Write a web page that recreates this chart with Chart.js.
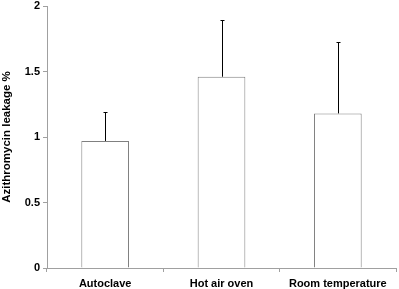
<!DOCTYPE html>
<html lang="en">
<head>
    <meta charset="UTF-8">
    <title>Azithromycin leakage</title>
    <script src="https://cdn.jsdelivr.net/npm/chart.js"></script>
    <style>
        html, body { margin: 0; padding: 0; background: #fff; }
        #wrap { width: 399px; height: 289px; }
    </style>
</head>
<body>
    <div id="wrap"><canvas id="leakChart"></canvas></div>

    <script>
        const categories = ['Autoclave', 'Hot air oven', 'Room temperature'];
        const leakage = [0.97, 1.46, 1.18];
        const errorUp = [0.22, 0.43, 0.545];
        const yTicks = [0, 0.5, 1, 1.5, 2];

        // barres d'erreur (seulement vers le haut)
        const errorBars = {
            id: 'errorBars',
            afterDatasetsDraw(chart) {
                const ctx = chart.ctx;
                const y = chart.scales.y;
                const meta = chart.getDatasetMeta(0);
                ctx.save();
                ctx.strokeStyle = '#000';
                ctx.lineWidth = 1;
                meta.data.forEach((bar, i) => {
                    const x = Math.round(bar.x) + 0.5;
                    const top = Math.round(y.getPixelForValue(leakage[i] + errorUp[i])) + 0.5;
                    ctx.beginPath();
                    ctx.moveTo(x, bar.y);
                    ctx.lineTo(x, top);
                    ctx.moveTo(x - 2, top);
                    ctx.lineTo(x + 2, top);
                    ctx.stroke();
                });
                ctx.restore();
            }
        };

        const tickFont = { family: 'Liberation Sans, Arial', size: 11, weight: 'bold' };

        const ctx = document.getElementById('leakChart').getContext('2d');
        const chart = new Chart(ctx, {
            type: 'bar',
            data: {
                labels: categories,
                datasets: [{
                    data: leakage,
                    backgroundColor: '#ffffff',
                    borderColor: '#808080',
                    borderWidth: 1,
                    categoryPercentage: 0.41,
                    barPercentage: 1
                }]
            },
            options: {
                responsive: true,
                maintainAspectRatio: false,
                animation: false,
                layout: { padding: { top: 6, right: 3, bottom: 0, left: 0 } },
                plugins: {
                    legend: { display: false },
                    tooltip: { enabled: false }
                },
                scales: {
                    x: {
                        afterFit(axis) { axis.height = 21; },
                        grid: {
                            display: true,
                            drawOnChartArea: false,
                            drawTicks: true,
                            tickLength: 4,
                            color: '#a0a0a0'
                        },
                        border: { color: '#a0a0a0' },
                        ticks: {
                            color: '#000',
                            padding: 5,
                            maxRotation: 0,
                            font: tickFont
                        }
                    },
                    y: {
                        min: 0,
                        max: 2,
                        afterFit(axis) {
                            axis.width = 47;
                            axis.paddingTop = 0;
                            axis.paddingBottom = 0;
                        },
                        afterBuildTicks(axis) {
                            axis.ticks = yTicks.map(v => ({ value: v }));
                        },
                        grid: {
                            display: true,
                            drawOnChartArea: false,
                            drawTicks: true,
                            tickLength: 4,
                            color: '#a0a0a0'
                        },
                        border: { color: '#a0a0a0' },
                        ticks: {
                            color: '#000',
                            padding: 3,
                            font: tickFont,
                            callback: v => String(v)
                        },
                        title: {
                            display: true,
                            text: 'Azithromycin leakage %',
                            color: '#000',
                            padding: { top: 0, bottom: 4 },
                            font: { family: 'Liberation Sans, Arial', size: 11.5, weight: 'bold' }
                        }
                    }
                }
            },
            plugins: [errorBars]
        });
    </script>
</body>
</html>
